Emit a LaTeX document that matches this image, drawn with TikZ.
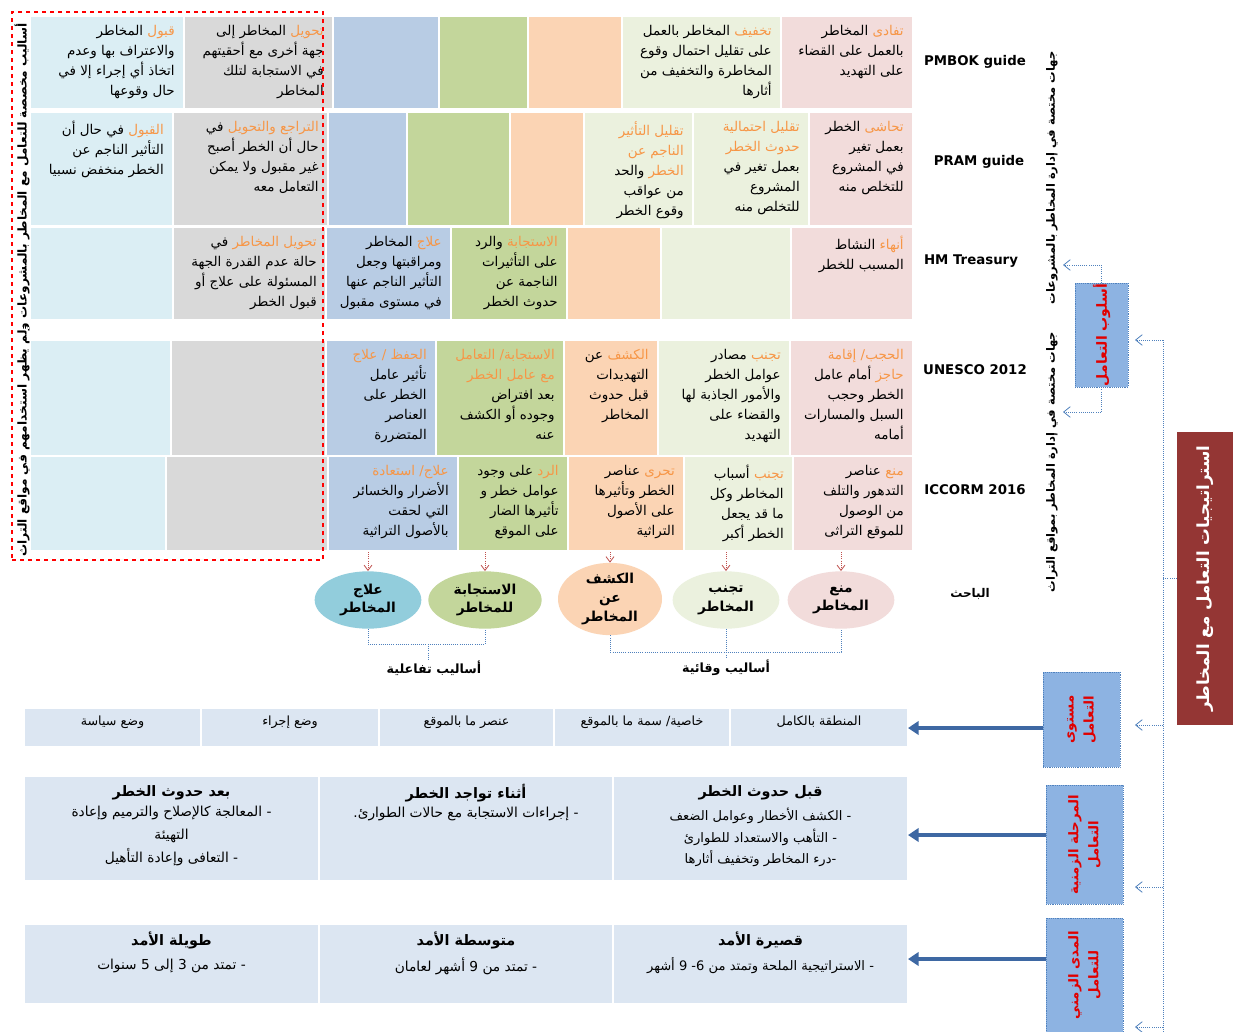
\documentclass[tikz,border=0pt]{standalone}
\usepackage{fontspec}
\usetikzlibrary{calc,arrows.meta,shapes.geometric}
\TeXXeTstate=1
\setmainfont{DejaVu Sans}
\newfontfamily\ar[Script=Arabic]{DejaVu Sans}
\newfontfamily\arkw[Script=Arabic,Color=F79646]{DejaVu Sans}
\newcommand\rl[1]{\beginR #1\endR}
\definecolor{cpink}{HTML}{F2DCDB}
\definecolor{clg}{HTML}{EBF1DE}
\definecolor{cor}{HTML}{FBD4B4}
\definecolor{cgr}{HTML}{C3D69B}
\definecolor{cbl}{HTML}{B8CCE4}
\definecolor{cgy}{HTML}{D9D9D9}
\definecolor{clb}{HTML}{DBEEF4}
\definecolor{cteal}{HTML}{92CDDC}
\definecolor{cbot}{HTML}{DCE6F2}
\definecolor{cbox}{HTML}{8DB3E2}
\definecolor{cred}{HTML}{943634}
\definecolor{ctxtred}{HTML}{E00000}
\definecolor{clink}{HTML}{4F81BD}
\definecolor{cthick}{HTML}{3E68A3}
\definecolor{csep}{HTML}{95B3D7}
\definecolor{cdash}{HTML}{C0504D}
\newcommand\kw[1]{{\arkw #1}}
\newcommand\bgcell[6]{\node[cellbg, fill=#6, minimum width={(#4-#2)*0.75pt}, minimum height={(#5-#3)*0.75pt}] (#1) at ({(#2+#4)/2},{(#3+#5)/2}) {};}
\newcommand\txcell[2]{\node[ctxt, anchor=north east] (#1t) at ($(#1.north east)+(-8,8)$) {#2};}
\begin{document}
\begin{tikzpicture}[x=0.75pt,y=-0.75pt,
 cellbg/.style={draw=none, inner sep=0pt, outer sep=0pt, rectangle},
 ctxt/.style={font=\ar\fontsize{10.1}{15}\selectfont, align=right, inner sep=0pt},
 src/.style={font=\bfseries\fontsize{10}{12}\selectfont, inner sep=1pt},
 vtxt/.style={rotate=90, font=\ar\bfseries\fontsize{8.6}{11}\selectfont, inner sep=0pt},
 ell/.style={ellipse, draw=none, inner sep=0pt, minimum width=80pt, minimum height=43pt, font=\ar\bfseries\fontsize{10.3}{14}\selectfont, align=center},
 bbox/.style={draw=clink, densely dotted, line width=0.4pt, fill=cbox, inner sep=0pt},
 bluetxt/.style={rotate=90, font=\ar\bfseries\fontsize{10}{15}\selectfont, text=ctxtred, align=center},
 thinarr/.style={draw=clink, densely dotted, line width=0.6pt, -{Straight Barb[length=5pt,width=8pt]}},
 thinline/.style={draw=clink, densely dotted, line width=0.6pt},
 thickarr/.style={draw=cthick, line width=3pt, -{Triangle[length=8pt,width=10pt]}},
 redarr/.style={draw=cdash, densely dotted, line width=0.6pt, -{Straight Barb[length=4pt,width=6pt]}},
 brk/.style={draw=clink, densely dotted, line width=0.6pt},
 botcell/.style={cellbg, fill=cbot},
 bottxt/.style={font=\ar\fontsize{9.5}{12}\selectfont, inner sep=0pt},
 bhead/.style={font=\ar\bfseries\fontsize{10.8}{16}\selectfont, align=center, inner sep=0pt},
 bbody/.style={font=\ar\fontsize{10.3}{17}\selectfont, align=center, inner sep=0pt},
]
\useasboundingbox (0,0) rectangle (1233,1032);
\fill[white] (0,0) rectangle (1233,1032);

% ---------- Row 1: PMBOK
\bgcell{r1a}{782}{17}{912}{108}{cpink}
\bgcell{r1b}{623}{17}{780}{108}{clg}
\bgcell{r1c}{529}{17}{621}{108}{cor}
\bgcell{r1d}{440}{17}{527}{108}{cgr}
\bgcell{r1e}{334}{17}{438}{108}{cbl}
\bgcell{r1f}{185}{17}{332}{108}{cgy}
\bgcell{r1g}{31}{17}{183}{108}{clb}
\txcell{r1a}{\rl{\kw{تفادى} المخاطر}\\ \rl{بالعمل على القضاء}\\ \rl{على التهديد}}
\txcell{r1b}{\rl{\kw{تخفيف} المخاطر بالعمل}\\ \rl{على تقليل احتمال وقوع}\\ \rl{المخاطرة والتخفيف من}\\ \rl{أثارها}}
\txcell{r1f}{\rl{\kw{تحويل} المخاطر إلى}\\ \rl{جهة أخرى مع أحقيتهم}\\ \rl{في الاستجابة لتلك}\\ \rl{المخاطر}}
\txcell{r1g}{\rl{\kw{قبول} المخاطر}\\ \rl{والاعتراف بها وعدم}\\ \rl{اتخاذ أي إجراء إلا في}\\ \rl{حال وقوعها}}

% ---------- Row 2: PRAM
\bgcell{r2a}{810}{113}{912}{225}{cpink}
\bgcell{r2b}{694}{113}{808}{225}{clg}
\bgcell{r2c}{585}{113}{692}{225}{clg}
\bgcell{r2d}{511}{113}{583}{225}{cor}
\bgcell{r2e}{408}{113}{509}{225}{cgr}
\bgcell{r2f}{329}{113}{406}{225}{cbl}
\bgcell{r2g}{174}{113}{327}{225}{cgy}
\bgcell{r2h}{31}{113}{172}{225}{clb}
\txcell{r2a}{\rl{\kw{تحاشى} الخطر}\\ \rl{بعمل تغير}\\ \rl{في المشروع}\\ \rl{للتخلص منه}}
\txcell{r2b}{\rl{\kw{تقليل احتمالية}}\\ \rl{\kw{حدوث الخطر}}\\ \rl{بعمل تغير في}\\ \rl{المشروع}\\ \rl{للتخلص منه}}
\txcell{r2c}{\rl{\kw{تقليل التأثير}}\\ \rl{\kw{الناجم عن}}\\ \rl{\kw{الخطر} والحد}\\ \rl{من عواقب}\\ \rl{وقوع الخطر}}
\txcell{r2g}{\rl{\kw{التراجع والتحويل} في}\\ \rl{حال أن الخطر أصبح}\\ \rl{غير مقبول ولا يمكن}\\ \rl{التعامل معه}}
\txcell{r2h}{\rl{\kw{القبول} في حال أن}\\ \rl{التأثير الناجم عن}\\ \rl{الخطر منخفض نسبيا}}

% ---------- Row 3: HM Treasury
\bgcell{r3a}{792}{228}{912}{319}{cpink}
\bgcell{r3b}{662}{228}{790}{319}{clg}
\bgcell{r3c}{568}{228}{660}{319}{cor}
\bgcell{r3d}{452}{228}{566}{319}{cgr}
\bgcell{r3e}{327}{228}{450}{319}{cbl}
\bgcell{r3f}{174}{228}{325}{319}{cgy}
\bgcell{r3g}{31}{228}{172}{319}{clb}
\txcell{r3a}{\rl{\kw{أنهاء} النشاط}\\ \rl{المسبب للخطر}}
\txcell{r3d}{\rl{\kw{الاستجابة} والرد}\\ \rl{على التأثيرات}\\ \rl{الناجمة عن}\\ \rl{حدوث الخطر}}
\txcell{r3e}{\rl{\kw{علاج} المخاطر}\\ \rl{ومراقبتها وجعل}\\ \rl{التأثير الناجم عنها}\\ \rl{في مستوى مقبول}}
\txcell{r3f}{\rl{\kw{تحويل المخاطر} في}\\ \rl{حالة عدم القدرة الجهة}\\ \rl{المسئولة على علاج أو}\\ \rl{قبول الخطر}}

% ---------- Row 4: UNESCO
\bgcell{r4a}{791}{341}{912}{455}{cpink}
\bgcell{r4b}{659}{341}{789}{455}{clg}
\bgcell{r4c}{565}{341}{657}{455}{cor}
\bgcell{r4d}{437}{341}{563}{455}{cgr}
\bgcell{r4e}{327}{341}{435}{455}{cbl}
\bgcell{r4f}{172}{341}{325}{455}{cgy}
\bgcell{r4g}{31}{341}{170}{455}{clb}
\txcell{r4a}{\rl{\kw{الحجب/ إقامة}}\\ \rl{\kw{حاجز} أمام عامل}\\ \rl{الخطر وحجب}\\ \rl{السبل والمسارات}\\ \rl{أمامه}}
\txcell{r4b}{\rl{\kw{تجنب} مصادر}\\ \rl{عوامل الخطر}\\ \rl{والأمور الجاذبة لها}\\ \rl{والقضاء على}\\ \rl{التهديد}}
\txcell{r4c}{\rl{\kw{الكشف} عن}\\ \rl{التهديدات}\\ \rl{قبل حدوث}\\ \rl{المخاطر}}
\txcell{r4d}{\rl{\kw{الاستجابة/ التعامل}}\\ \rl{\kw{مع عامل الخطر}}\\ \rl{بعد افتراض}\\ \rl{وجوده أو الكشف}\\ \rl{عنه}}
\txcell{r4e}{\rl{\kw{الحفظ / علاج}}\\ \rl{تأثير عامل}\\ \rl{الخطر على}\\ \rl{العناصر}\\ \rl{المتضررة}}

% ---------- Row 5: ICCORM
\bgcell{r5a}{794}{457}{912}{550}{cpink}
\bgcell{r5b}{685}{457}{792}{550}{clg}
\bgcell{r5c}{569}{457}{683}{550}{cor}
\bgcell{r5d}{459}{457}{567}{550}{cgr}
\bgcell{r5e}{329}{457}{457}{550}{cbl}
\bgcell{r5f}{167}{457}{327}{550}{cgy}
\bgcell{r5g}{31}{457}{165}{550}{clb}
\txcell{r5a}{\rl{\kw{منع} عناصر}\\ \rl{التدهور والتلف}\\ \rl{من الوصول}\\ \rl{للموقع التراثى}}
\txcell{r5b}{\rl{\kw{تجنب} أسباب}\\ \rl{المخاطر وكل}\\ \rl{ما قد يجعل}\\ \rl{الخطر أكبر}}
\txcell{r5c}{\rl{\kw{تحرى} عناصر}\\ \rl{الخطر وتأثيرها}\\ \rl{على الأصول}\\ \rl{التراثية}}
\txcell{r5d}{\rl{\kw{الرد} على وجود}\\ \rl{عوامل خطر و}\\ \rl{تأثيرها الضار}\\ \rl{على الموقع}}
\txcell{r5e}{\rl{\kw{علاج/ استعادة}}\\ \rl{الأضرار والخسائر}\\ \rl{التي لحقت}\\ \rl{بالأصول التراثية}}

% ---------- red dashed frame and its vertical text
\node[draw=red, dashed, line width=1.2pt, inner sep=0pt, minimum width={311*0.75pt}, minimum height={548*0.75pt}] (frame) at (167.5,286) {};
\node[vtxt, font=\ar\bfseries\fontsize{9.1}{11}\selectfont] (frametxt) at (22,290) {\rl{أساليب مخصصة للتعامل مع المخاطر بالمشروعات ولم يظهر استخدامهم في مواقع التراث}};

% ---------- source labels
\node[src] (pmbok) at (975,62) {PMBOK guide};
\node[src] (pram) at (979,162) {PRAM guide};
\node[src] (hmt) at (971,261) {HM Treasury};
\node[src] (unesco) at (975,370) {UNESCO 2012};
\node[src] (iccorm) at (975,490) {ICCORM 2016};

% ---------- right vertical texts
\node[vtxt] (vt1) at (1052,178) {\rl{جهات مختصة في إدارة المخاطر بالمشروعات}};
\node[vtxt] (vt2) at (1052,462) {\rl{جهات مختصة في إدارة المخاطر بمواقع التراث}};

% ---------- asloob box
\node[bbox, minimum width={53*0.75pt}, minimum height={104*0.75pt}] (asl) at (1101.5,335) {};
\node[bluetxt, font=\ar\bfseries\fontsize{10.5}{14}\selectfont] (asltxt) at (asl.center) {\rl{أسلوب التعامل}};
\coordinate (sepL) at (10,328);
\draw[draw=csep, densely dotted, line width=0.5pt, double=white, double distance=1.2pt] (sepL) -- (sepL -| asl.west);
\coordinate (aup) at (1063,265);
\coordinate (adn) at (1063,412);
\draw[thinarr] (asl.north) |- (aup);
\draw[thinarr] (asl.south) |- (adn);

% ---------- strategy red box
\node[fill=cred, inner sep=0pt, minimum width={56*0.75pt}, minimum height={293*0.75pt}] (strat) at (1205,578.5) {};
\node[rotate=90, text=white, font=\ar\bfseries\fontsize{12.5}{15}\selectfont] (strattxt) at (strat.center) {\rl{استراتيجيات التعامل مع المخاطر}};

% ---------- lower blue boxes
\node[bbox, minimum width={77*0.75pt}, minimum height={95*0.75pt}] (mst) at (1081.5,719.5) {};
\node[bluetxt] (msttxt) at (mst.center) {\rl{مستوى}\\ \rl{التعامل}};
\node[bbox, minimum width={77*0.75pt}, minimum height={119*0.75pt}] (mrh) at (1084.5,844.5) {};
\node[bluetxt] (mrhtxt) at (mrh.center) {\rl{المرحلة الزمنية}\\ \rl{التعامل}};
\node[bbox, minimum width={77*0.75pt}, minimum height={124*0.75pt}] (mda) at (1084.5,980) {};
\node[bluetxt] (mdatxt) at (1084.5,975) {\rl{المدى الزمني}\\ \rl{للتعامل}};

% ---------- main vertical connector
\coordinate (vtop) at (1163,340);
\coordinate (vbot) at (1163,1032);
\draw[thinline] (vtop) -- (vbot);
\draw[thinline] (strat.west) -- (strat.west -| vtop);
\coordinate (t1) at (1135,340);
\coordinate (t2) at (1135,725);
\coordinate (t3) at (1135,887);
\coordinate (t4) at (1135,1027);
\draw[thinarr] (t1 -| vtop) -- (t1);
\draw[thinarr] (t2 -| vtop) -- (t2);
\draw[thinarr] (t3 -| vtop) -- (t3);
\draw[thinarr] (t4 -| vtop) -- (t4);

% ---------- ellipses
\node[ell, fill=cteal] (e1) at (368,600) {\rl{علاج}\\ \rl{المخاطر}};
\node[ell, fill=cgr, minimum width=85pt] (e2) at (485,600) {\rl{الاستجابة}\\ \rl{للمخاطر}};
\node[ell, fill=cor, minimum width=78pt, minimum height=46pt] (e3) at (610,599) {\rl{الكشف}\\ \rl{عن}\\ \rl{المخاطر}};
\node[ell, fill=clg] (e4) at (726,600) {\rl{تجنب}\\ \rl{المخاطر}};
\node[ell, fill=cpink] (e5) at (841,600) {\rl{منع}\\ \rl{المخاطر}};
\node[font=\ar\bfseries\fontsize{9}{11}\selectfont] (bahith) at (970,594) {\rl{الباحث}};

\draw[redarr] (e1.north |- r5e.south) ++(0,2) -- (e1.north);
\draw[redarr] (e2.north |- r5d.south) ++(0,2) -- (e2.north);
\draw[redarr] (e3.north |- r5c.south) ++(0,2) -- (e3.north);
\draw[redarr] (e4.north |- r5b.south) ++(0,2) -- (e4.north);
\draw[redarr] (e5.north |- r5a.south) ++(0,2) -- (e5.north);

% ---------- brackets
\coordinate (b1) at (428,644);
\coordinate (b2) at (726,652);
\node[font=\ar\bfseries\fontsize{9.5}{11}\selectfont, inner sep=1pt] (lab1) at (434,668) {\rl{أساليب تفاعلية}};
\node[font=\ar\bfseries\fontsize{9.5}{11}\selectfont, inner sep=1pt] (lab2) at (726,668) {\rl{أساليب وقائية}};
\draw[brk] (e1.south) |- (b1) -| (e2.south);
\draw[brk] (b1) -- (lab1.north -| b1);
\draw[brk] (e3.south) |- (b2) -| (e5.south);
\draw[brk] (e4.south) -- (lab2.north);

% ---------- bottom row A
\node[botcell, minimum width={176*0.75pt}, minimum height={37*0.75pt}] (a1) at (819,727.5) {};
\node[botcell, minimum width={174*0.75pt}, minimum height={37*0.75pt}] (a2) at (642,727.5) {};
\node[botcell, minimum width={173*0.75pt}, minimum height={37*0.75pt}] (a3) at (466.5,727.5) {};
\node[botcell, minimum width={176*0.75pt}, minimum height={37*0.75pt}] (a4) at (290,727.5) {};
\node[botcell, minimum width={175*0.75pt}, minimum height={37*0.75pt}] (a5) at (112.5,727.5) {};
\node[bottxt] (a1t) at (819,722) {\rl{المنطقة بالكامل}};
\node[bottxt] (a2t) at (642,722) {\rl{خاصية/ سمة ما بالموقع}};
\node[bottxt] (a3t) at (466.5,722) {\rl{عنصر ما بالموقع}};
\node[bottxt] (a4t) at (290,722) {\rl{وضع إجراء}};
\node[bottxt] (a5t) at (112.5,722) {\rl{وضع سياسة}};

% ---------- bottom row B
\node[botcell, minimum width={293*0.75pt}, minimum height={103*0.75pt}] (b1c) at (760.5,828.5) {};
\node[botcell, minimum width={292*0.75pt}, minimum height={103*0.75pt}] (b2c) at (466,828.5) {};
\node[botcell, minimum width={293*0.75pt}, minimum height={103*0.75pt}] (b3c) at (171.5,828.5) {};
\node[bhead] (b1h) at (760.5,793) {\rl{قبل  حدوث الخطر}};
\node[bbody, font=\ar\fontsize{9.8}{16}\selectfont, anchor=north] (b1b) at (760.5,808) {\rl{- الكشف الأخطار وعوامل الضعف}\\ \rl{- التأهب والاستعداد للطوارئ}\\ \rl{-درء المخاطر وتخفيف أثارها}};
\node[bhead] (b2h) at (466,793) {\rl{أثناء تواجد الخطر}};
\node[bbody, anchor=north] (b2b) at (466,807) {\rl{- إجراءات الاستجابة مع حالات الطوارئ.}};
\node[bhead] (b3h) at (171.5,793) {\rl{بعد حدوث الخطر}};
\node[bbody, anchor=north] (b3b) at (171.5,806) {\rl{- المعالجة كالإصلاح والترميم وإعادة}\\ \rl{التهيئة}\\ \rl{- التعافى وإعادة التأهيل}};

% ---------- bottom row C
\node[botcell, minimum width={293*0.75pt}, minimum height={78*0.75pt}] (c1c) at (760.5,964) {};
\node[botcell, minimum width={292*0.75pt}, minimum height={78*0.75pt}] (c2c) at (466,964) {};
\node[botcell, minimum width={293*0.75pt}, minimum height={78*0.75pt}] (c3c) at (171.5,964) {};
\node[bhead] (c1h) at (760.5,940) {\rl{قصيرة الأمد}};
\node[bbody, font=\ar\fontsize{9.8}{16}\selectfont] (c1b) at (760.5,966) {\rl{- الاستراتيجية الملحة وتمتد من 6- 9 أشهر}};
\node[bhead] (c2h) at (466,940) {\rl{متوسطة الأمد}};
\node[bbody] (c2b) at (466,966) {\rl{- تمتد من 9 أشهر لعامان}};
\node[bhead] (c3h) at (171.5,940) {\rl{طويلة الأمد}};
\node[bbody] (c3b) at (171.5,966) {\rl{- تمتد من 3 إلى 5 سنوات}};

% ---------- thick arrows
\coordinate (ta1) at (908,728);
\coordinate (ta2) at (908,835);
\coordinate (ta3) at (908,959);
\draw[thickarr] (ta1 -| mst.west) -- (ta1);
\draw[thickarr] (ta2 -| mrh.west) -- (ta2);
\draw[thickarr] (ta3 -| mda.west) -- (ta3);
\end{tikzpicture}
\end{document}
